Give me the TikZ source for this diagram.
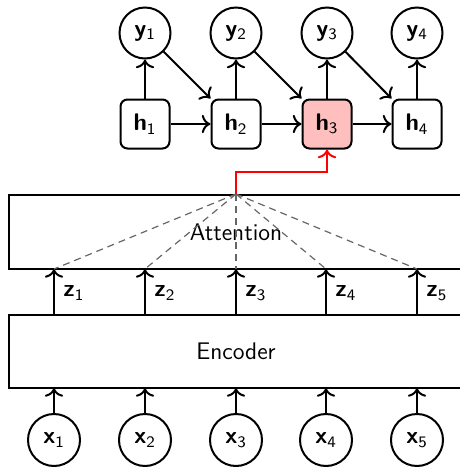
\documentclass[tikz,border=0pt]{standalone}
\usetikzlibrary{arrows.meta}
\newcommand\vlab[2]{\textbf{#1}\textsubscript{#2}}
\begin{document}
\begin{tikzpicture}[x=0.5pt,y=-0.5pt,
  font=\sffamily\fontsize{12}{14}\selectfont,
  thk/.style={line width=1pt},
  arr/.style={line width=1pt,-{To[scale=1.15]}},
  circ/.style={circle,draw,line width=1pt,minimum size=25.5pt,inner sep=0pt},
  hbox/.style={rectangle,rounded corners=3.5pt,draw,line width=1pt,minimum size=24.5pt,inner sep=0pt},
  bigbox/.style={rectangle,draw,line width=1pt,minimum width=227pt,inner sep=0pt},
  attline/.style={dashed,dash pattern=on 3.5pt off 2.5pt,draw=black!60,line width=0.6pt},
  redarr/.style={draw=red,line width=1pt,-{To[scale=1.15]}},
  zlab/.style={anchor=west,inner sep=0pt}]
\useasboundingbox (0,0) rectangle (460,467);
\clip (0,0) rectangle (460,467);
% big boxes
\node[bigbox,minimum height=37pt] (att) at (236,232) {Attention};
\node[bigbox,minimum height=36.5pt] (enc) at (236,351.5) {Encoder};
% x inputs
\foreach \i/\xx in {1/54,2/145,3/236,4/326,5/417}{
  \node[circ,minimum size=26pt] (x\i) at (\xx,440) {\vlab{x}{\i}};
  \coordinate (eb\i) at (\xx,388);
  \coordinate (et\i) at (\xx,315);
  \coordinate (ab\i) at (\xx,269);
  \draw[arr] (x\i) -- (eb\i);
  \draw[arr] (et\i) -- (ab\i);
  \node[zlab] (zl\i) at (\xx+9,293) {\vlab{z}{\i}};
  \draw[attline] (att.north) -- (ab\i);
}
% decoder
\foreach \i/\xx in {1/145,2/236,3/327,4/417}{
  \node[circ] (y\i) at (\xx,33) {\vlab{y}{\i}};
}
\node[hbox] (h1) at (145,124) {\vlab{h}{1}};
\node[hbox] (h2) at (236,124) {\vlab{h}{2}};
\node[hbox,fill=red!25] (h3) at (327,124) {\vlab{h}{3}};
\node[hbox] (h4) at (417,124) {\vlab{h}{4}};
\foreach \i in {1,2,3,4}{ \draw[arr] (h\i) -- (y\i); }
\draw[arr] (h1) -- (h2);
\draw[arr] (h2) -- (h3);
\draw[arr] (h3) -- (h4);
\draw[arr] (y1) -- (h2.north west);
\draw[arr] (y2) -- (h3.north west);
\draw[arr] (y3) -- (h4.north west);
% attention to h3
\coordinate (rc) at (236,172);
\draw[redarr] (att.north) -- (rc) -| (h3.south);
\end{tikzpicture}
\end{document}
